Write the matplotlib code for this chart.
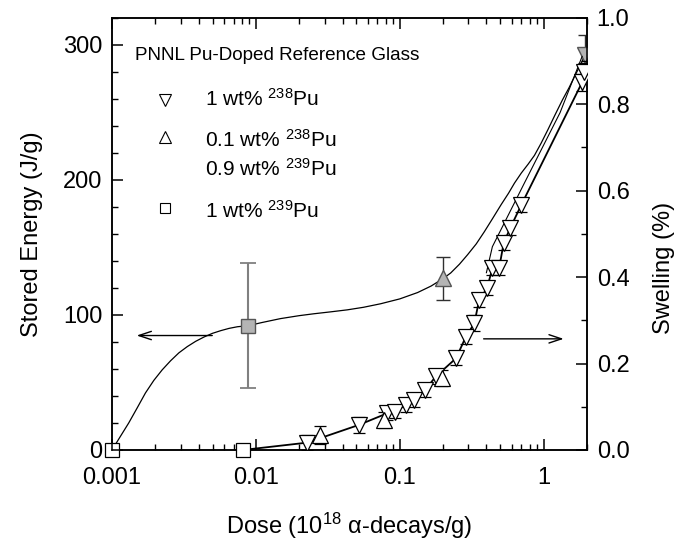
import matplotlib
matplotlib.use('Agg')
import matplotlib.pyplot as plt
from matplotlib.lines import Line2D

plt.rcParams['font.family'] = ['Liberation Sans', 'DejaVu Sans']
plt.rcParams['mathtext.fontset'] = 'custom'
plt.rcParams['mathtext.rm'] = 'Liberation Sans'
plt.rcParams['mathtext.it'] = 'Liberation Sans:italic'
plt.rcParams['mathtext.default'] = 'regular'

# stored energy (left axis), J/g
se_dose = [0.001, 0.00887, 0.201, 1.93]
se_val = [0, 92, 127, 292]
se_err = [0, 46, 16, 15]

# smooth curve drawn through the stored energy points
se_curve_dose = [0.001, 0.001143, 0.001307, 0.001494, 0.001708, 0.001953, 0.002233,
                 0.002553, 0.002918, 0.003336, 0.003814, 0.004361, 0.004985, 0.005699,
                 0.006516, 0.007449, 0.00887, 0.011, 0.0148, 0.02, 0.0253, 0.033, 0.0432,
                 0.056, 0.0736, 0.1, 0.133, 0.165, 0.201, 0.226, 0.26, 0.296, 0.34, 0.387,
                 0.44, 0.506, 0.57, 0.627, 0.7, 0.78, 0.863, 0.96, 1.07, 1.2, 1.35, 1.5,
                 1.65, 1.82, 1.93]
se_curve_val = [0, 10, 20, 31, 42.2, 51.5, 59.3, 66, 71.9, 76.5, 80.4, 83.6, 86.3, 88.3,
                90, 91.2, 92, 94.3, 97.2, 99.4, 100.8, 102.2, 103.7, 105.6, 108.2, 111.8,
                116.5, 121.3, 127, 131, 137.5, 144.5, 152.5, 161.5, 171, 181.5, 190, 197.5,
                205, 211.5, 218, 227, 237, 248, 259, 268, 277, 286, 292]

# swelling (right axis), %  -- 1 wt% 238Pu
sw_dose = [0.0227, 0.052, 0.082, 0.093, 0.11, 0.126, 0.15, 0.178, 0.246, 0.288, 0.33,
           0.356, 0.404, 0.44, 0.49, 0.527, 0.585, 0.70, 1.85, 1.90]
sw_val = [0.017, 0.058, 0.085, 0.089, 0.104, 0.116, 0.139, 0.17, 0.212, 0.262, 0.293,
          0.347, 0.374, 0.42, 0.42, 0.478, 0.513, 0.567, 0.85, 0.875]
sw_err = [0.018, 0.018, 0.016, 0.016, 0.016, 0.016, 0.016, 0.018, 0.016, 0.016, 0.018,
          0.016, 0.016, 0.016, 0.016, 0.016, 0.016, 0.016, 0.02, 0.02]

# swelling -- 0.1 wt% 238Pu / 0.9 wt% 239Pu
sw2_dose = [0.0277, 0.078, 0.198]
sw2_val = [0.035, 0.069, 0.166]
sw2_err = [0.02, 0.018, 0.018]

# 1 wt% 239Pu zero points
sq_dose = [0.001, 0.0081]
sq_val = [0, 0]

# swelling line: zero point then the 238Pu data
swl_dose = [0.0081] + sw_dose
swl_val = [0] + sw_val

# second swelling curve near the top
fit_dose = [0.40, 0.44, 0.734, 1.3, 1.85]
fit_val = [0.41, 0.47, 0.617, 0.78, 0.91]

fig = plt.figure(figsize=(6.9, 5.44), dpi=100)
ax = fig.add_axes([0.1623, 0.1728, 0.6884, 0.795])
ax2 = ax.twinx()

grey = '#b4b4b4'

ax.set_xscale('log')
ax.set_xlim(0.001, 2.0)
ax.set_ylim(0, 320)
ax2.set_ylim(0, 1.0)

# stored energy
ax.plot(se_curve_dose, se_curve_val, color='black', lw=0.9, zorder=2)
ax.errorbar(se_dose[1], se_val[1], yerr=se_err[1], fmt='s', ms=10, mfc=grey, mec='#555555',
            ecolor='#808080', elinewidth=1.5, capsize=6, capthick=1.3, zorder=4)
ax.errorbar(se_dose[2], se_val[2], yerr=se_err[2], fmt='^', ms=11, mfc=grey, mec='#555555',
            ecolor='#303030', elinewidth=1.0, capsize=5, capthick=1.0, zorder=4)
ax.errorbar(se_dose[3], se_val[3], yerr=se_err[3], fmt='v', ms=11, mfc=grey, mec='#555555',
            ecolor='#303030', elinewidth=1.0, capsize=5, capthick=1.0, zorder=4)
ax.plot(sq_dose[0], sq_val[0], 's', ms=10, mfc='white', mec='black', mew=0.9,
        clip_on=False, zorder=6)

# swelling
ax2.plot(swl_dose, swl_val, color='black', lw=1.3, zorder=2)
ax2.plot(fit_dose, fit_val, color='black', lw=0.8, zorder=2)
ax2.errorbar(sw_dose, sw_val, yerr=sw_err, fmt='v', ms=11, mfc='white', mec='black',
             mew=0.9, ecolor='black', elinewidth=0.9, capsize=4, capthick=0.9, zorder=4)
ax2.errorbar(sw2_dose, sw2_val, yerr=sw2_err, fmt='^', ms=11, mfc='white', mec='black',
             mew=0.9, ecolor='black', elinewidth=0.9, capsize=4, capthick=0.9, zorder=4)
ax2.plot(sq_dose[1], sq_val[1], 's', ms=10, mfc='white', mec='black', mew=0.9,
         clip_on=False, zorder=6)

# arrows pointing to the axes
ax.annotate('', xy=(0.00142, 84.7), xytext=(0.0052, 84.7),
            arrowprops=dict(arrowstyle='->,head_length=0.9,head_width=0.3', lw=1.0, color='black'))
ax2.annotate('', xy=(1.44, 0.257), xytext=(0.366, 0.257),
             arrowprops=dict(arrowstyle='->,head_length=0.9,head_width=0.3', lw=1.0, color='black'))

# ticks
ax.set_xticks([0.001, 0.01, 0.1, 1])
ax.set_xticklabels(['0.001', '0.01', '0.1', '1'])
ax.set_yticks([0, 100, 200, 300])
ax.set_yticks(range(0, 321, 20), minor=True)
ax2.set_yticks([0, 0.2, 0.4, 0.6, 0.8, 1.0])
ax2.set_yticklabels(['0.0', '0.2', '0.4', '0.6', '0.8', '1.0'])
ax2.set_yticks([0.1, 0.3, 0.5, 0.7, 0.9], minor=True)
ax.tick_params(axis='both', which='major', direction='in', length=8, width=1.1,
               labelsize=17, top=True, right=False)
ax.tick_params(axis='x', which='major', pad=12)
ax.tick_params(axis='y', which='major', pad=7)
ax.tick_params(axis='both', which='minor', direction='in', length=4.5, width=1.0,
               top=True, right=False)
ax2.tick_params(axis='y', which='major', direction='in', length=8, width=1.1,
                labelsize=17, pad=7)
ax2.tick_params(axis='y', which='minor', direction='in', length=4.5, width=1.0)
for a in (ax, ax2):
    for s in a.spines.values():
        s.set_linewidth(1.1)

ax.set_xlabel('Dose (10$^{18}$ α-decays/g)', fontsize=17, labelpad=16)
ax.set_ylabel('Stored Energy (J/g)', fontsize=17, labelpad=14)
ax2.set_ylabel('Swelling (%)', fontsize=17)
ax2.yaxis.set_label_coords(1.14, 0.42)

# legend block
ax.text(0.048, 0.902, 'PNNL Pu-Doped Reference Glass', transform=ax.transAxes,
        fontsize=13.6, ha='left', va='baseline')
key_x = 0.112
ax.add_line(Line2D([key_x], [0.809], transform=ax.transAxes, marker='v', ms=8,
                   mfc='white', mec='black', mew=0.8, ls='none'))
ax.add_line(Line2D([key_x], [0.724], transform=ax.transAxes, marker='^', ms=8,
                   mfc='white', mec='black', mew=0.8, ls='none'))
ax.add_line(Line2D([key_x], [0.559], transform=ax.transAxes, marker='s', ms=7,
                   mfc='white', mec='black', mew=0.8, ls='none'))
ax.text(0.196, 0.795, '1 wt% $^{238}$Pu', transform=ax.transAxes, fontsize=15,
        ha='left', va='baseline')
ax.text(0.196, 0.701, '0.1 wt% $^{238}$Pu', transform=ax.transAxes, fontsize=15,
        ha='left', va='baseline')
ax.text(0.196, 0.634, '0.9 wt% $^{239}$Pu', transform=ax.transAxes, fontsize=15,
        ha='left', va='baseline')
ax.text(0.196, 0.536, '1 wt% $^{239}$Pu', transform=ax.transAxes, fontsize=15,
        ha='left', va='baseline')

fig.savefig('out.png', dpi=100)
